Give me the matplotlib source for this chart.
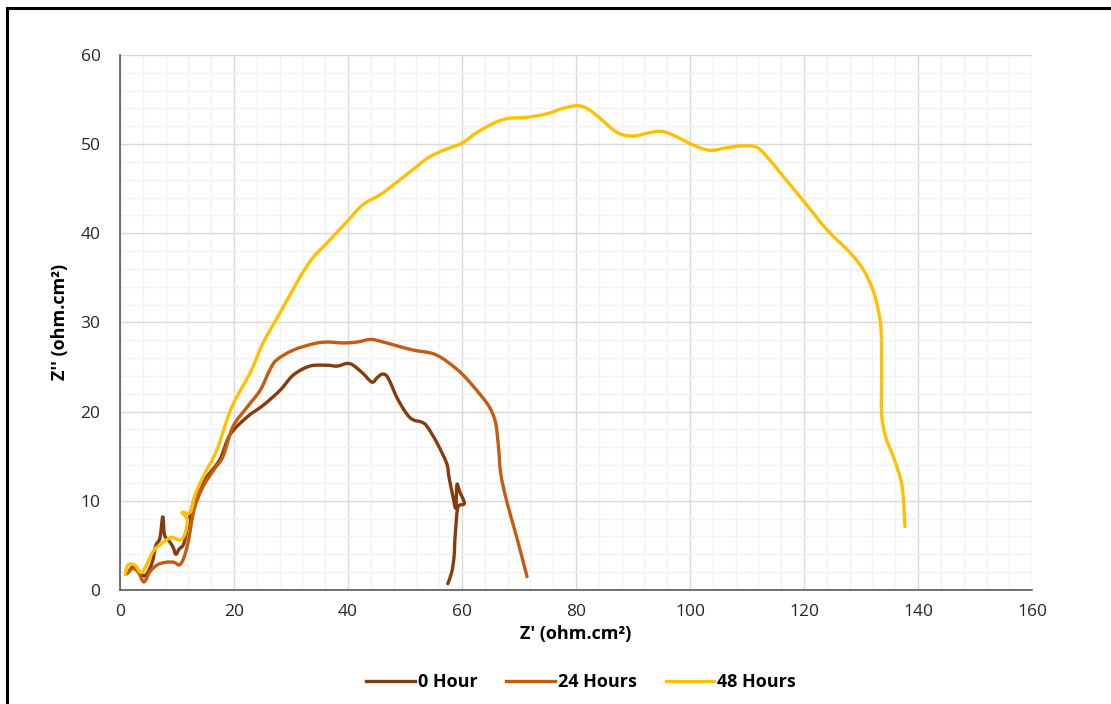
import matplotlib.pyplot as plt
from matplotlib.patches import Rectangle, PathPatch
from matplotlib.path import Path
from matplotlib.lines import Line2D
from matplotlib.ticker import MultipleLocator

# Nyquist data, Z' and Z'' in ohm.cm2
z_re_0h = [1.5, 2.3, 3.3, 4.4, 5.6, 6.3, 7.0, 7.5, 7.8, 8.5, 9.3, 9.8, 10.4, 11.2,
           12.0, 13.2, 15.0, 17.5, 19.3, 22.3, 25.1, 28.1, 30.4, 33.3, 36.3, 38.1,
           39.8, 40.9, 42.6, 44.2, 45.1, 46.0, 47.0, 48.8, 50.9, 53.0, 53.9, 55.6,
           57.3, 57.7, 58.4, 58.9, 59.1, 59.6, 60.4, 59.3, 58.9, 58.7, 58.6, 58.2, 57.5]
z_im_0h = [2.0, 2.6, 2.1, 1.6, 3.0, 5.0, 5.8, 8.2, 6.2, 5.6, 4.8, 4.0, 4.6, 5.2,
           7.5, 10.5, 12.5, 14.6, 17.4, 19.4, 20.7, 22.4, 24.1, 25.1, 25.2, 25.1,
           25.4, 25.2, 24.3, 23.3, 23.8, 24.2, 23.8, 21.3, 19.3, 18.8, 18.3, 16.5,
           14.2, 12.7, 10.5, 9.2, 11.8, 11.0, 9.7, 9.3, 7.0, 5.0, 3.7, 2.0, 0.7]

z_re_24h = [1.2, 2.2, 3.2, 4.2, 5.2, 6.5, 8.0, 9.5, 10.4, 11.2, 12.0, 13.0, 14.5,
            16.5, 18.1, 19.8, 22.3, 24.6, 26.3, 27.5, 30.4, 33.9, 36.3, 39.1, 41.6,
            43.9, 45.6, 47.9, 51.4, 54.9, 57.4, 60.2, 63.2, 64.9, 65.9, 66.4, 66.8,
            67.9, 69.6, 71.4]
z_im_24h = [1.8, 2.4, 2.0, 0.9, 2.0, 2.8, 3.1, 3.1, 2.8, 3.6, 5.5, 9.0, 11.5,
            13.5, 15.0, 18.3, 20.5, 22.4, 24.7, 25.8, 26.9, 27.6, 27.8, 27.7, 27.8,
            28.1, 27.9, 27.5, 26.9, 26.5, 25.6, 24.1, 21.9, 20.4, 18.7, 16.0, 13.0,
            9.8, 5.9, 1.5]

z_re_48h = [0.9, 1.4, 2.6, 3.9, 5.8, 7.5, 9.1, 10.5, 11.4, 11.8, 10.9, 12.3,
            13.2, 14.6, 17.0, 19.6, 22.8, 25.1, 28.1, 31.6, 33.9, 36.3, 39.8, 42.6,
            45.6, 47.9, 50.9, 53.9, 56.7, 60.0, 62.6, 66.1, 68.4, 71.4, 74.9, 77.7,
            80.2, 81.9, 84.2, 87.2, 90.0, 93.0, 95.3, 97.7, 100.5, 103.5, 106.5,
            109.3, 111.8, 114.0, 115.8, 119.8, 124.0, 128.1, 130.4, 132.1, 133.0,
            133.5, 133.6, 133.6, 134.3, 135.5, 136.6, 137.2, 137.5, 137.7]
z_im_48h = [1.7, 2.8, 2.8, 2.0, 4.3, 5.3, 5.9, 5.6, 6.3, 7.9, 8.7, 8.7,
            10.7, 12.7, 15.7, 20.5, 24.3, 27.7, 31.1, 35.1, 37.3, 38.9, 41.3, 43.2,
            44.3, 45.4, 46.9, 48.4, 49.3, 50.1, 51.3, 52.5, 52.9, 53.0, 53.4, 54.0,
            54.3, 54.0, 52.9, 51.3, 50.9, 51.3, 51.4, 50.8, 49.9, 49.3, 49.6,
            49.8, 49.6, 48.2, 46.8, 43.7, 40.4, 37.8, 35.9, 33.6, 31.4,
            29.2, 24.5, 19.8, 17.2, 15.2, 13.2, 11.6, 9.3, 7.1]

series = [
    ("0 Hour", z_re_0h, z_im_0h, "#843C0C"),
    ("24 Hours", z_re_24h, z_im_24h, "#C55A11"),
    ("48 Hours", z_re_48h, z_im_48h, "#FFC000"),
]


def smooth_path(x, y):
    # Excel-style smoothed line: cubic Bezier through every point
    pts = list(zip(x, y))
    n = len(pts)
    verts = [pts[0]]
    codes = [Path.MOVETO]
    for i in range(n - 1):
        p0 = pts[max(i - 1, 0)]
        p1 = pts[i]
        p2 = pts[i + 1]
        p3 = pts[min(i + 2, n - 1)]
        c1 = (p1[0] + (p2[0] - p0[0]) / 6, p1[1] + (p2[1] - p0[1]) / 6)
        c2 = (p2[0] - (p3[0] - p1[0]) / 6, p2[1] - (p3[1] - p1[1]) / 6)
        verts += [c1, c2, p2]
        codes += [Path.CURVE4] * 3
    return Path(verts, codes)


font = "Open Sans"
fig = plt.figure(figsize=(11.11, 7.04), dpi=100)
ax = fig.add_axes([0.108, 0.162, 0.821, 0.760])

handles = []
for label, x, y, color in series:
    ax.add_patch(PathPatch(smooth_path(x, y), fill=False, edgecolor=color,
                           lw=2.4, joinstyle="round", capstyle="round"))
    handles.append(Line2D([], [], color=color, lw=2.4, label=label))

ax.set_xlim(0, 160)
ax.set_ylim(0, 60)
ax.xaxis.set_major_locator(MultipleLocator(20))
ax.xaxis.set_minor_locator(MultipleLocator(4))
ax.yaxis.set_major_locator(MultipleLocator(10))
ax.yaxis.set_minor_locator(MultipleLocator(2))
ax.grid(which="major", color="#D9D9D9", lw=1.0)
ax.grid(which="minor", color="#F2F2F2", lw=1.0)
ax.set_axisbelow(True)

for side in ("top", "right"):
    ax.spines[side].set_visible(False)
for side in ("left", "bottom"):
    ax.spines[side].set_color("#595959")
    ax.spines[side].set_linewidth(1.2)

ax.tick_params(which="both", length=0)
ax.tick_params(axis="x", pad=10)
ax.tick_params(axis="y", pad=14)
for lab in ax.get_xticklabels() + ax.get_yticklabels():
    lab.set_fontfamily(font)
    lab.set_fontsize(12.5)
    lab.set_color("#262626")

ax.set_xlabel("Z' (ohm.cm²)", fontfamily=font, fontsize=13, fontweight="bold",
              labelpad=4)
ax.set_ylabel("Z'' (ohm.cm²)", fontfamily=font, fontsize=13, fontweight="bold",
              labelpad=8)

fig.legend(handles=handles, loc="center", bbox_to_anchor=(0.523, 0.031), ncol=3,
           frameon=False, handlelength=2.7, handletextpad=0.15,
           columnspacing=1.6,
           prop={"family": font, "size": 13, "weight": "bold"})

# outer chart border
fig.patches.append(Rectangle((7 / 1111, -0.05), 1.2, 1 - 8 / 704 + 0.05,
                             transform=fig.transFigure, fill=False,
                             edgecolor="black", lw=2.2))

fig.savefig("out.png", dpi=100)
